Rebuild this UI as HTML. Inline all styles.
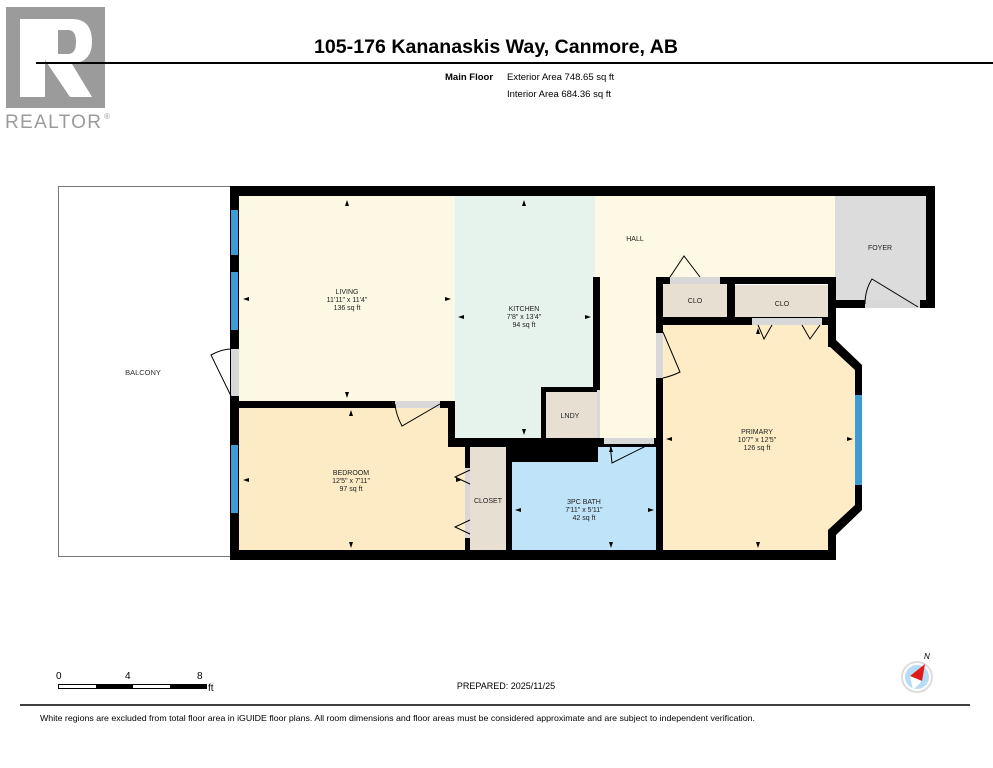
<!DOCTYPE html>
<html><head><meta charset="utf-8"><style>
html,body{margin:0;padding:0;background:#fff;}
svg{display:block;font-family:"Liberation Sans",sans-serif;}
</style></head><body>
<svg width="993" height="768" viewBox="0 0 993 768" xmlns="http://www.w3.org/2000/svg">
<!-- logo -->
<rect x="6" y="7" width="99" height="101" fill="#9b9b9b"/>
<rect x="20" y="19" width="25" height="78" fill="#fff"/>
<path d="M45 19 H72 Q92 19 92 42 Q92 62 72 64 L92 97 H70 L45 60 Z" fill="#fff"/>
<path d="M58 30 H68 Q76 30 76 42 Q76 54 68 54 H58 Z" fill="#9b9b9b"/>
<text x="5" y="128" font-size="19" fill="#9b9b9b" textLength="96">REALTOR</text>
<text x="104" y="119" font-size="8" fill="#9b9b9b">®</text>
<line x1="36" y1="63" x2="993" y2="63" stroke="#000" stroke-width="2"/>
<text x="314" y="53" font-size="19" font-weight="bold" textLength="364" lengthAdjust="spacingAndGlyphs">105-176 Kananaskis Way, Canmore, AB</text>
<text x="445" y="80" font-size="9.5" font-weight="bold">Main Floor</text>
<text x="507" y="80" font-size="9.5">Exterior Area 748.65 sq ft</text>
<text x="507" y="97" font-size="9.5">Interior Area 684.36 sq ft</text>

<!-- balcony -->
<rect x="58.5" y="186.5" width="172" height="370" fill="#fff" stroke="#777" stroke-width="1"/>
<text x="143" y="375" font-size="7.5" text-anchor="middle" fill="#333">BALCONY</text>

<!-- room fills -->
<rect x="239" y="196" width="216" height="206" fill="#fdf8e3"/>
<rect x="455" y="196" width="140" height="245" fill="#e6f2ec"/>
<rect x="595" y="196" width="240" height="82" fill="#fef9e4"/>
<rect x="598" y="270" width="60" height="170" fill="#fef9e4"/>
<rect x="835" y="196" width="92" height="106" fill="#dcdcdc"/>
<rect x="239" y="406" width="212" height="146" fill="#fdebc5"/>
<rect x="239" y="445" width="228" height="107" fill="#fdebc5"/>
<rect x="468" y="445" width="40" height="107" fill="#e8dfd3"/>
<rect x="510" y="460" width="148" height="92" fill="#bfe3f8"/>
<rect x="597" y="444" width="61" height="20" fill="#bfe3f8"/>
<rect x="545" y="390" width="52" height="50" fill="#e8dfd3"/>
<rect x="662" y="282" width="66" height="37" fill="#e8dfd3"/>
<rect x="734" y="285" width="96" height="34" fill="#e8dfd3"/>
<polygon points="662,324 831,324 831,345 857,370 857,505 831,530 831,552 662,552" fill="#fdecc6"/>

<!-- walls -->
<g fill="#000">
<rect x="230" y="186" width="705" height="10"/>
<rect x="926" y="186" width="9" height="122"/>
<rect x="835" y="300" width="100" height="8"/>
<rect x="230" y="186" width="9" height="374"/>
<rect x="230" y="550" width="606" height="10"/>
<rect x="230" y="401" width="225" height="7"/>
<rect x="448" y="401" width="7" height="46"/>
<rect x="448" y="438" width="215" height="9"/>
<rect x="510" y="438" width="88" height="24"/>
<rect x="465" y="445" width="5" height="110"/>
<rect x="506" y="445" width="6" height="110"/>
<rect x="593" y="277" width="7" height="113"/>
<rect x="541" y="387" width="59" height="5"/>
<rect x="541" y="387" width="5" height="53"/>
<rect x="656" y="277" width="180" height="7"/>
<rect x="656" y="277" width="7" height="280"/>
<rect x="727" y="277" width="8" height="44"/>
<rect x="656" y="317" width="180" height="8"/>
<rect x="828" y="277" width="8" height="70"/>
<polygon points="828,340 836,340 862,365 862,510 836,535 836,557 828,557 828,530 855,505 855,370 828,345"/>
</g>
<!-- windows -->
<g fill="#3d9bd6"><rect x="231" y="210" width="7" height="45"/><rect x="231" y="272" width="7" height="58"/><rect x="231" y="445" width="7" height="68"/><rect x="855" y="395" width="7" height="90"/></g>
<!-- door gaps -->
<g fill="#d8d8d8">
<rect x="231" y="349" width="8" height="47"/>
<rect x="395" y="401" width="45" height="7"/>
<rect x="465" y="468" width="5" height="70"/>
<rect x="604" y="438" width="50" height="6"/>
<rect x="656" y="333" width="7" height="45"/>
<rect x="670" y="277" width="50" height="7"/>
<rect x="752" y="318" width="70" height="7"/>
<rect x="865" y="300" width="55" height="8"/>
<rect x="597" y="390" width="3" height="48"/>
</g>
<g fill="none" stroke="#000" stroke-width="1">
<path d="M231 396 L211 355 Q222 349 231 349"/>
<path d="M440 404 L402 426 Q396 415 395 404"/>
<path d="M470 470 L455 477 L470 484"/><path d="M470 520 L455 527 L470 534"/>
<path d="M610 444 L612 463 L650 444"/>
<path d="M663 332 L680 372 Q672 376 663 378"/>
<path d="M670 277 L684 256 L700 277"/>
<path d="M758 325 L764 339 L772 325"/><path d="M802 325 L810 339 L820 325"/>
<path d="M918 307 L872 279 Q865 290 865 304"/>
</g>
<!-- labels -->
<g font-size="7" text-anchor="middle" fill="#222">
<text x="347" y="294">LIVING</text><text x="347" y="302">11'11" x 11'4"</text><text x="347" y="310">136 sq ft</text>
<text x="524" y="311">KITCHEN</text><text x="524" y="319">7'8" x 13'4"</text><text x="524" y="327">94 sq ft</text>
<text x="635" y="241">HALL</text>
<text x="880" y="250">FOYER</text>
<text x="695" y="303">CLO</text>
<text x="782" y="306">CLO</text>
<text x="570" y="418">LNDY</text>
<text x="351" y="475">BEDROOM</text><text x="351" y="483">12'5" x 7'11"</text><text x="351" y="491">97 sq ft</text>
<text x="488" y="503">CLOSET</text>
<text x="584" y="504">3PC BATH</text><text x="584" y="512">7'11" x 5'11"</text><text x="584" y="520">42 sq ft</text>
<text x="757" y="434">PRIMARY</text><text x="757" y="442">10'7" x 12'5"</text><text x="757" y="450">126 sq ft</text>
</g>
<!-- dimension arrows -->
<g fill="#000">
<path d="M347 200 l-2 6 h4z"/><path d="M347 398 l-2 -6 h4z"/><path d="M243 299 l6 -2 v4z"/><path d="M451 299 l-6 -2 v4z"/>
<path d="M524 200 l-2 6 h4z"/><path d="M524 435 l-2 -6 h4z"/><path d="M458 317 l6 -2 v4z"/><path d="M591 317 l-6 -2 v4z"/>
<path d="M351 410 l-2 6 h4z"/><path d="M351 548 l-2 -6 h4z"/><path d="M243 480 l6 -2 v4z"/><path d="M462 480 l-6 -2 v4z"/>
<path d="M611 446 l-2 6 h4z"/><path d="M611 548 l-2 -6 h4z"/><path d="M515 510 l6 -2 v4z"/><path d="M654 510 l-6 -2 v4z"/>
<path d="M758 328 l-2 6 h4z"/><path d="M758 548 l-2 -6 h4z"/><path d="M666 439 l6 -2 v4z"/><path d="M853 439 l-6 -2 v4z"/>
</g>

<!-- scale -->
<g font-size="10" fill="#000">
<text x="56" y="679">0</text><text x="125" y="679">4</text><text x="197" y="679">8</text><text x="208" y="691">ft</text>
</g>
<rect x="58.5" y="684.5" width="148" height="4" fill="#fff" stroke="#000" stroke-width="1"/>
<rect x="96" y="685" width="37" height="4" fill="#000"/><rect x="170" y="685" width="37" height="4" fill="#000"/>
<text x="506" y="689" font-size="9" text-anchor="middle">PREPARED: 2025/11/25</text>
<!-- compass -->
<circle cx="917" cy="677" r="15" fill="#fff" stroke="#ddd" stroke-width="2"/>
<circle cx="917" cy="677" r="12" fill="#b8dcf5"/>
<path d="M925 664 L910 676 L922 681 Z" fill="#e01b1b"/>
<path d="M910 676 L922 681 L913 690 Z" fill="#fff"/>
<text x="924" y="659" font-size="8" font-style="italic">N</text>
<line x1="20" y1="705" x2="970" y2="705" stroke="#000" stroke-width="1.5"/>
<text x="40" y="721" font-size="8.5" textLength="715" lengthAdjust="spacingAndGlyphs">White regions are excluded from total floor area in iGUIDE floor plans. All room dimensions and floor areas must be considered approximate and are subject to independent verification.</text>
</svg>
</body></html>
